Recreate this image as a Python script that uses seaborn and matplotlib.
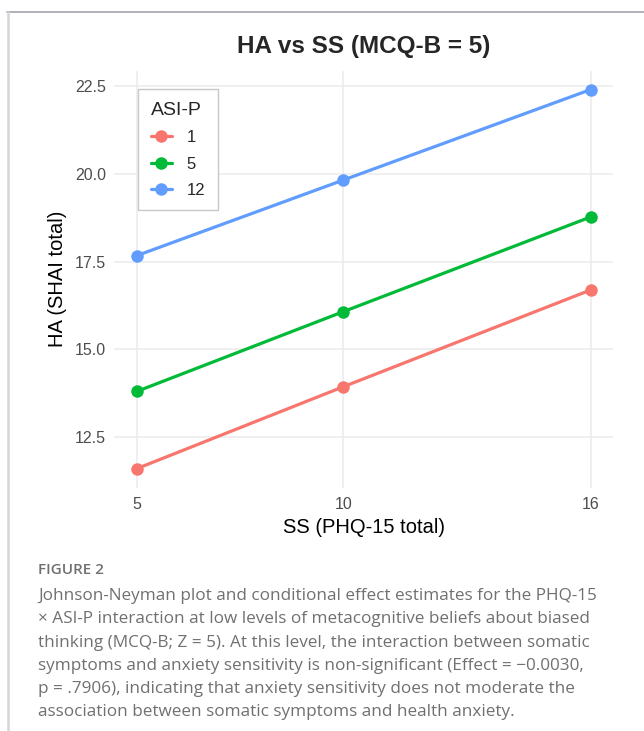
import numpy as np
import pandas as pd
import seaborn as sns
import matplotlib.pyplot as plt
from matplotlib.lines import Line2D

# values
ss_total = [5, 10, 16]
asi_levels = ['1', '5', '12']
ha_asi1 = [11.60, 13.93, 16.69]
ha_asi5 = [13.80, 16.07, 18.77]
ha_asi12 = [17.67, 19.82, 22.40]
y_ticks = [12.5, 15.0, 17.5, 20.0, 22.5]
colors = ['#F8766D', '#00BA38', '#619CFF']

title = 'HA vs SS (MCQ-B = 5)'
caption_head = 'FIGURE 2'
caption_lines = [
    'Johnson-Neyman plot and conditional effect estimates for the PHQ-15',
    '\u00d7 ASI-P interaction at low levels of metacognitive beliefs about biased',
    'thinking (MCQ-B; Z = 5). At this level, the interaction between somatic',
    'symptoms and anxiety sensitivity is non-significant (Effect = \u22120.0030,',
    'p = .7906), indicating that anxiety sensitivity does not moderate the',
    'association between somatic symptoms and health anxiety.',
]

df = pd.DataFrame({
    'SS': ss_total * 3,
    'HA': ha_asi1 + ha_asi5 + ha_asi12,
    'ASI-P': np.repeat(asi_levels, len(ss_total)),
})

sns.set_theme(style='whitegrid')
plt.rcParams['font.family'] = ['Liberation Sans', 'DejaVu Sans']

W, H = 644, 731
fig = plt.figure(figsize=(W / 100, H / 100), dpi=100)
left, right, top, bottom = 114.3, 613.4, 70.6, 487.5
ax = fig.add_axes([left / W, 1 - bottom / H, (right - left) / W, (bottom - top) / H])

sns.lineplot(data=df, x='SS', y='HA', hue='ASI-P', hue_order=asi_levels,
             palette=dict(zip(asi_levels, colors)), marker='o', markersize=9,
             markeredgewidth=0, linewidth=2.3, ax=ax)

# ggplot style 5% expansion
xr = max(ss_total) - min(ss_total)
ax.set_xlim(min(ss_total) - 0.05 * xr, max(ss_total) + 0.05 * xr)
all_y = ha_asi1 + ha_asi5 + ha_asi12
yr = max(all_y) - min(all_y)
ax.set_ylim(min(all_y) - 0.05 * yr, max(all_y) + 0.05 * yr)
ax.set_xticks(ss_total)
ax.set_yticks(y_ticks)
ax.set_yticklabels([f'{v:.1f}' for v in y_ticks])

for s in ax.spines.values():
    s.set_visible(False)
ax.grid(True, color='#ebebeb', linewidth=1.1)
ax.tick_params(length=0, labelsize=11.5, labelcolor='#4d4d4d')
ax.tick_params(axis='x', pad=7)
ax.tick_params(axis='y', pad=6)
ax.set_xlabel('SS (PHQ-15 total)', fontsize=14.5, color='black', labelpad=4)
ax.set_ylabel('HA (SHAI total)', fontsize=14.5, color='black', labelpad=6)

leg = ax.legend(title='ASI-P', loc='upper left', bbox_to_anchor=(0.048, 0.955),
                borderaxespad=0, frameon=True, fancybox=False, edgecolor='#c8c8c8',
                facecolor='white', framealpha=1, fontsize=12, title_fontsize=14,
                handlelength=1.25, handletextpad=0.9, labelspacing=0.68,
                borderpad=0.75, alignment='left')
leg.get_frame().set_linewidth(1.0)

fig.text(364 / W, 1 - 47 / H, title, ha='center', va='center',
         fontsize=17.5, fontweight='bold')

# outer frame lines
fig.add_artist(Line2D([7 / W, 1], [1 - 12 / H] * 2, color='#a3a3ab', lw=1.2))
fig.add_artist(Line2D([7.5 / W] * 2, [0, 1 - 12 / H], color='#d4d4da', lw=1.8))

cap_font = ['Open Sans', 'DejaVu Sans']
fig.text(38 / W, 1 - 570 / H, caption_head, ha='left', va='center',
         fontsize=11, fontweight='semibold', color='#707070', family=cap_font)
for i, line in enumerate(caption_lines):
    fig.text(38 / W, 1 - (596 + 23.3 * i) / H, line, ha='left', va='center',
             fontsize=12.3, color='#707070', family=cap_font)

fig.savefig('out.png', dpi=100)
